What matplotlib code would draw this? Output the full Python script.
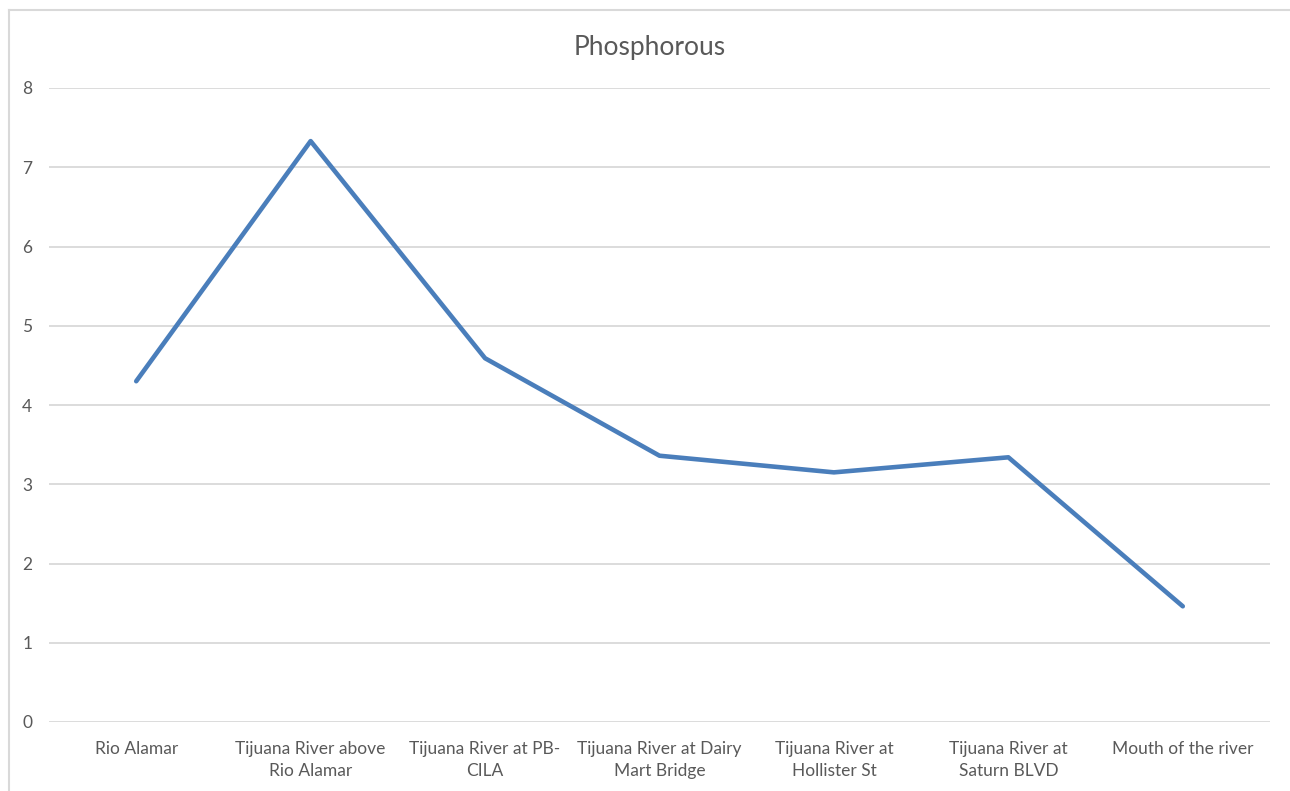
import matplotlib.pyplot as plt
from matplotlib.lines import Line2D

# Datos del gráfico
sites = [
    "Rio Alamar",
    "Tijuana River above\nRio Alamar",
    "Tijuana River at PB-\nCILA",
    "Tijuana River at Dairy\nMart Bridge",
    "Tijuana River at\nHollister St",
    "Tijuana River at\nSaturn BLVD",
    "Mouth of the river",
]
phosphorous = [4.30, 7.33, 4.59, 3.36, 3.15, 3.34, 1.46]
y_ticks = [0, 1, 2, 3, 4, 5, 6, 7, 8]

plt.rcParams['font.family'] = ['Lato', 'DejaVu Sans']

W, H = 1290, 791
fig = plt.figure(figsize=(W / 100, H / 100), dpi=100)
ax = fig.add_axes([49 / W, 1 - 722 / H, (1270 - 49) / W, (722 - 88) / H])

x = list(range(len(sites)))
ax.plot(x, phosphorous, color='#4a7ebb', lw=3.3, solid_joinstyle='round',
        solid_capstyle='round', zorder=3)

ax.set_xlim(-0.5, len(sites) - 0.5)
ax.set_ylim(0, 8)
ax.set_yticks(y_ticks)
ax.set_xticks(x)
ax.set_xticklabels(sites, linespacing=1.45)
ax.grid(axis='y', color='#d9d9d9', lw=1.3)
ax.set_axisbelow(True)
for s in ax.spines.values():
    s.set_visible(False)
ax.tick_params(length=0, labelsize=12.5, labelcolor='#595959')
ax.tick_params(axis='y', pad=12)
ax.tick_params(axis='x', pad=13.5)

fig.text(650 / W, 1 - 47.5 / H, "Phosphorous", ha='center', va='center',
         fontsize=19, color='#595959')

# borde del área del gráfico (solo arriba e izquierda visibles)
bx, by = 8.5 / W, 1 - 10 / H
fig.add_artist(Line2D([bx, 1.0], [by, by], color='#d9d9d9', lw=1.5,
                      transform=fig.transFigure))
fig.add_artist(Line2D([bx, bx], [0, by], color='#d9d9d9', lw=1.5,
                      transform=fig.transFigure))

fig.savefig('out.png', dpi=100)
